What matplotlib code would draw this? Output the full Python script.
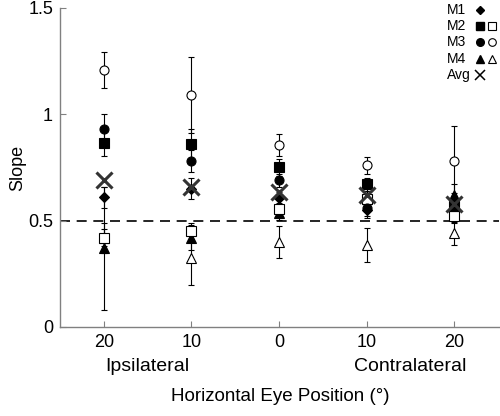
import numpy as np
import matplotlib.pyplot as plt

# eye positions (ipsilateral 20, 10, 0, contralateral 10, 20)
positions = [1, 2, 3, 4, 5]
tick_labels = ["20", "10", "0", "10", "20"]

# slopes per monkey (filled / open symbols) and errors
m1 = [0.61, 0.65, 0.605, 0.55, 0.57]
m1_err = [0.05, 0.05, 0.03, 0.04, 0.03]
m2_fill = [0.865, 0.86, 0.75, 0.67, 0.57]
m2_fill_err = [0.06, 0.07, 0.04, 0.03, 0.03]
m2_open = [0.42, 0.45, 0.555, 0.60, 0.52]
m2_open_err = [0.04, 0.04, 0.03, 0.03, 0.03]
m3_fill = [0.93, 0.78, 0.69, 0.56, 0.59]
m3_fill_err = [0.07, 0.05, 0.03, 0.04, 0.04]
m3_open = [1.21, 1.09, 0.855, 0.76, 0.78]
m3_open_err = [0.085, 0.18, 0.05, 0.04, 0.165]
m4_fill = [0.37, 0.42, 0.535, 0.60, 0.62]
m4_fill_err = [0.29, 0.06, 0.03, 0.04, 0.05]
m4_open = [0.42, 0.325, 0.40, 0.385, 0.44]
m4_open_err = [0.07, 0.13, 0.075, 0.08, 0.055]
avg = [0.69, 0.66, 0.635, 0.62, 0.58]

plt.rcParams['font.family'] = ['Liberation Sans', 'DejaVu Sans']

fig = plt.figure(figsize=(5.0, 4.16), dpi=100)
ax = fig.add_axes([0.12, 0.214, 0.878, 0.767])

ms = 6.5
series = [
    (m4_open, m4_open_err, '^', 'white'),
    (m4_fill, m4_fill_err, '^', 'black'),
    (m2_open, m2_open_err, 's', 'white'),
    (m1, m1_err, 'D', 'black'),
    (m3_fill, m3_fill_err, 'o', 'black'),
    (m2_fill, m2_fill_err, 's', 'black'),
    (m3_open, m3_open_err, 'o', 'white'),
]
for vals, errs, mk, fc in series:
    size = ms * 0.75 if mk == 'D' else ms
    ax.errorbar(positions, vals, yerr=errs, fmt=mk, mfc=fc, mec='black',
                ms=size, mew=0.8, ecolor='black', elinewidth=0.8,
                capsize=2.5, capthick=0.8, zorder=3)

ax.plot(positions, avg, 'x', color='#333333', ms=11, mew=2.2, zorder=4)

ax.axhline(0.5, color='black', lw=1.2, ls=(0, (6, 4)), zorder=1)

ax.set_xlim(0.5, 5.51)
ax.set_ylim(0, 1.5)
ax.set_xticks(positions)
ax.set_xticklabels(tick_labels)
ax.set_yticks([0, 0.5, 1, 1.5])
ax.set_yticklabels(["0", "0.5", "1", "1.5"])
ax.tick_params(direction='in', length=4, width=0.8, color='#808080',
               labelsize=13, pad=5)
for side in ['top', 'right']:
    ax.spines[side].set_visible(False)
for side in ['left', 'bottom']:
    ax.spines[side].set_color('#808080')
    ax.spines[side].set_linewidth(1.0)

ax.set_ylabel("Slope", fontsize=13)
ax.yaxis.set_label_coords(-0.078, 0.5)
ax.text(1.5, -0.125, "Ipsilateral", ha='center', va='center', fontsize=14,
        transform=ax.get_xaxis_transform())
ax.text(4.5, -0.125, "Contralateral", ha='center', va='center', fontsize=14,
        transform=ax.get_xaxis_transform())
fig.text(0.56, 0.046, "Horizontal Eye Position (\u00b0)", ha='center',
         va='center', fontsize=13.5)

# legend drawn by hand
leg_rows = ["M1", "M2", "M3", "M4", "Avg"]
leg_fill = ['D', 's', 'o', '^', None]
leg_open = [None, 's', 'o', '^', None]
row_y = [0.994, 0.943, 0.892, 0.841, 0.790]
for lab, fm, om, y in zip(leg_rows, leg_fill, leg_open, row_y):
    ax.text(0.882, y, lab, transform=ax.transAxes, ha='left', va='center',
            fontsize=10)
    if fm is not None:
        ax.plot(0.957, y, fm, mfc='black', mec='black',
                ms=4.3 if fm == 'D' else 5.5, transform=ax.transAxes,
                clip_on=False)
    if om is not None:
        ax.plot(0.984, y, om, mfc='white', mec='black', mew=0.8, ms=5.5,
                transform=ax.transAxes, clip_on=False)
ax.plot(0.957, row_y[-1], 'x', color='black', ms=7, mew=1.1,
        transform=ax.transAxes, clip_on=False)

fig.savefig("out.png", dpi=100)
